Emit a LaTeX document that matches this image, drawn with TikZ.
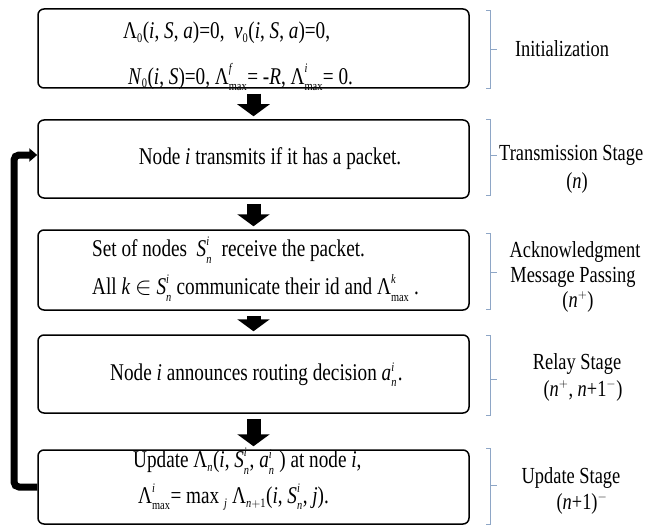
\documentclass[tikz,border=0pt]{standalone}
\usepackage{amsmath}
\usepackage{fontspec}
\setmainfont{Liberation Serif}[FakeStretch=0.8]
\DeclareMathSizes{24}{24}{13}{10}
\DeclareMathSizes{23}{23}{13}{10}
\usetikzlibrary{arrows.meta}
\definecolor{bracecol}{HTML}{8EA6C6}
\newcommand{\ti}[1]{\textit{#1}}
\newcommand{\tL}{\text{Λ}}
\newcommand{\Lmx}[1]{\tL^{\text{\textit{#1}}}_{\text{max}}}
\newcommand{\Sin}{\text{\textit{S}}^{\text{\textit{i}}}_{\text{\textit{n}}}}
\newcommand{\ain}{\text{\textit{a}}^{\text{\textit{i}}}_{\text{\textit{n}}}}
\newcommand{\stagebrk}[3]{%
  \draw[brk] (486,#1) -- (490,#1) -- (490,#3) -- (486,#3);
  \draw[brk] (490,#2) -- (497,#2);}
\begin{document}
\begin{tikzpicture}[x=1pt,y=-1pt,
  box/.style={draw, line width=1.5pt, rounded corners=6pt, minimum width=431pt, inner sep=0pt},
  txt/.style={inner sep=0pt, font=\fontsize{24}{26}\selectfont},
  blockarrow/.style={line width=14pt, -{Triangle[width=32pt,length=12pt]}, shorten <=5pt, shorten >=3pt},
  brk/.style={draw=bracecol, line width=0.9pt},
  lbl/.style={inner sep=0pt, font=\fontsize{23}{26}\selectfont}]
\useasboundingbox (0,0) rectangle (645,532);

\node[box, minimum height=79pt] (b1) at (253.5,48.5) {};
\node[box, minimum height=78pt] (b2) at (253.5,159) {};
\node[box, minimum height=80pt] (b3) at (253.5,270) {};
\node[box, minimum height=78pt] (b4) at (253.5,374) {};
\node[box, minimum height=74pt] (b5) at (253.5,487) {};

\node[txt, anchor=west] (t1a) at (123,33)
  {$\tL_{\text{0}}$(\ti{i}, \ti{S}, \ti{a})=0, \ $\text{\textit{ν}}_{\text{0}}$(\ti{i}, \ti{S}, \ti{a})=0,};
\node[txt, anchor=west] (t1b) at (128,77)
  {$\text{\textit{N}}_{\text{0}}$(\ti{i}, \ti{S})=0, $\Lmx{f}$= -\ti{R}, $\Lmx{i}$= 0.};
\node[txt] (t2) at (270,159) {Node \ti{i} transmits if it has a packet.};
\node[txt, anchor=west] (t3a) at (92,250)
  {Set of nodes \ $\Sin$ \ receive the packet.};
\node[txt, anchor=west] (t3b) at (92,288)
  {All \ti{k} $\in$ $\Sin$ communicate their id and $\Lmx{k}$ .};
\node[txt] (t4) at (256.5,375) {Node \ti{i} announces routing decision $\ain$\kern1pt.};
\node[txt, anchor=west] (t5a) at (133,461)
  {Update $\tL_{\text{\textit{n}}}$(\ti{i}, $\Sin$, $\ain$ ) at node \ti{i},};
\node[txt, anchor=west] (t5b) at (138,497)
  {$\Lmx{i}$= max $_{\text{\textit{j}}}$ $\tL_{\text{\textit{n}}+\text{1}}$(\ti{i}, $\Sin$, \ti{j}).};

\draw[blockarrow] (b1.south) -- (b2.north);
\draw[blockarrow] (b2.south) -- (b3.north);
\draw[blockarrow] (b3.south) -- (b4.north);
\draw[blockarrow] (b4.south) -- (b5.north);

\coordinate (fb) at (14,487);
\draw[line width=7pt, rounded corners=5pt, -{Triangle[width=13pt,length=8pt]}]
  (b5.west) -- (fb) |- ([yshift=4pt]b2.west);

\stagebrk{10}{49}{88}
\stagebrk{119}{155}{195}
\stagebrk{233}{272}{309}
\stagebrk{335}{379}{415}
\stagebrk{448}{485}{524}

\node[lbl] (l1) at (562,49) {Initialization};
\node[lbl, anchor=west] (l2a) at (499,155) {Transmission Stage};
\node[lbl] (l2b) at (577,183) {(\ti{n})};
\node[lbl] (l3a) at (575,252) {Acknowledgment};
\node[lbl] (l3b) at (573,277) {Message Passing};
\node[lbl] (l3c) at (578,302) {(\ti{n}$^{+}$)};
\node[lbl] (l4a) at (577,364) {Relay Stage};
\node[lbl] (l4b) at (583,391) {(\ti{n}$^{+}$, \ti{n}+1$^{-}$)};
\node[lbl] (l5a) at (571,478) {Update Stage};
\node[lbl] (l5b) at (582,504) {(\ti{n}+1)$^{-}$};
\end{tikzpicture}
\end{document}
